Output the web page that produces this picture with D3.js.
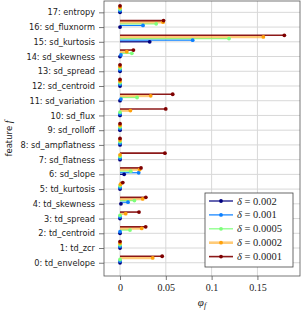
<!DOCTYPE html>
<html>
<head>
<meta charset="utf-8">
<script src="https://cdn.jsdelivr.net/npm/d3@7"></script>
<style>
body { margin: 0; background: #fff; }
svg { display: block; }
</style>
</head>
<body>
<div id="chart"></div>
<script>
// features, index 0 at the bottom
var features = ["td_envelope", "td_zcr", "td_centroid", "td_spread", "td_skewness",
  "td_kurtosis", "sd_slope", "sd_flatness", "sd_ampflatness", "sd_rolloff",
  "sd_flux", "sd_variation", "sd_centroid", "sd_spread", "sd_skewness",
  "sd_kurtosis", "sd_fluxnorm", "entropy"];

var deltas = ["0.002", "0.001", "0.0005", "0.0002", "0.0001"];
var colors = ["#00007f", "#0a7fff", "#7dff7a", "#ffa10a", "#7f0000"];

// phi_f per feature (0..17) for each delta
var phi_002 = [0, 0, 0, 0, 0.001, 0, 0.0045, 0, 0, 0, 0, 0, 0, 0, 0, 0.0324, 0, 0];
var phi_001 = [0, 0, 0, 0, 0.0087, 0, 0.0204, 0, 0, 0, 0, 0.001, 0, 0, 0.001, 0.0793, 0.0251, 0];
var phi_0005 = [0, 0, 0.0109, 0, 0.0157, 0, 0.0117, 0, 0, 0, 0, 0.0186, 0, 0, 0.0129, 0.119, 0.0395, 0];
var phi_0002 = [0.0357, 0, 0.0237, 0.0062, 0.0248, 0.0005, 0.0215, 0, 0, 0, 0.0113, 0.0335, 0, 0, 0.0074, 0.1565, 0.047, 0];
var phi_0001 = [0.046, 0, 0.028, 0.0207, 0.0282, 0.003, 0.0229, 0.049, 0, 0, 0.0499, 0.0575, 0, 0, 0.0146, 0.1794, 0.0475, 0];

var series = [phi_002, phi_001, phi_0005, phi_0002, phi_0001];
var xTicks = [0, 0.05, 0.1, 0.15];

var W = 301, H = 312;
var margin = {top: 1, right: 1, bottom: 36, left: 104};
var width = W - margin.left - margin.right,
    height = H - margin.top - margin.bottom;

var stemWidth = [1.2, 1.2, 1.3, 2.6, 1.6],
    stemOpacity = [1, 1, 0.9, 0.55, 0.9],
    offset = 0.11;

var svg = d3.select("#chart").append("svg")
  .attr("width", W).attr("height", H);

var g = svg.append("g")
  .attr("transform", "translate(" + margin.left + "," + margin.top + ")");

var x = d3.scaleLinear().domain([-0.0175, 0.1965]).range([0, width]);
var y = d3.scaleLinear().domain([-0.9, 17.77]).range([height, 0]);

// grid
g.selectAll("line.hgrid").data(features).enter().append("line")
  .attr("class", "hgrid")
  .attr("x1", 0).attr("x2", width)
  .attr("y1", function(d, i) { return y(i); })
  .attr("y2", function(d, i) { return y(i); })
  .style("stroke", "#d8d8d8").style("stroke-width", 1);

g.selectAll("line.vgrid").data(xTicks).enter().append("line")
  .attr("class", "vgrid")
  .attr("y1", 0).attr("y2", height)
  .attr("x1", function(d) { return x(d); })
  .attr("x2", function(d) { return x(d); })
  .style("stroke", "#d8d8d8").style("stroke-width", 1);

// stems
series.forEach(function(vals, s) {
  g.selectAll("line.stem" + s).data(vals).enter().append("line")
    .attr("class", "stem" + s)
    .attr("x1", x(0))
    .attr("x2", function(d) { return x(d); })
    .attr("y1", function(d, i) { return y(i + s * offset); })
    .attr("y2", function(d, i) { return y(i + s * offset); })
    .style("stroke", colors[s])
    .style("stroke-width", stemWidth[s])
    .style("stroke-opacity", stemOpacity[s]);
});

// markers
series.forEach(function(vals, s) {
  g.selectAll("circle.mk" + s).data(vals).enter().append("circle")
    .attr("class", "mk" + s)
    .attr("cx", function(d) { return x(d); })
    .attr("cy", function(d, i) { return y(i + s * offset); })
    .attr("r", 1.9)
    .style("fill", colors[s]);
});

// frame
g.append("rect")
  .attr("width", width).attr("height", height)
  .style("fill", "none").style("stroke", "#555").style("stroke-width", 0.8);

// axes
var yAxis = d3.axisLeft(y)
  .tickValues(d3.range(features.length))
  .tickFormat(function(d) { return d + ": " + features[d]; })
  .tickSize(5).tickPadding(4);

var yg = g.append("g").call(yAxis);
yg.select(".domain").remove();
yg.selectAll("line").style("stroke", "#555").style("stroke-width", 0.8);
yg.selectAll("text")
  .style("font-family", "'DejaVu Sans', sans-serif")
  .style("font-size", "8.2px")
  .style("fill", "#222");

var xAxis = d3.axisBottom(x)
  .tickValues(xTicks)
  .tickFormat(function(d) { return d === 0 ? "0" : String(d); })
  .tickSize(4).tickPadding(4);

var xg = g.append("g").attr("transform", "translate(0," + height + ")").call(xAxis);
xg.select(".domain").remove();
xg.selectAll("line").style("stroke", "#555").style("stroke-width", 0.8);
xg.selectAll("text")
  .style("font-family", "'Liberation Serif', serif")
  .style("font-size", "10px")
  .style("fill", "#222");

// axis labels
svg.append("text")
  .attr("transform", "translate(12," + (margin.top + height / 2) + ") rotate(-90)")
  .attr("text-anchor", "middle")
  .style("font-family", "'DejaVu Sans', sans-serif")
  .style("font-size", "8.5px")
  .style("fill", "#222")
  .html("feature <tspan style=\"font-family:'Liberation Serif',serif;font-style:italic;font-size:10px\">f</tspan>");

var xl = svg.append("text")
  .attr("x", margin.left + width / 2).attr("y", 306)
  .attr("text-anchor", "middle")
  .style("font-family", "'Liberation Serif', serif")
  .style("font-size", "11px")
  .style("fill", "#222");
xl.append("tspan").style("font-style", "italic").text("\u03c6");
xl.append("tspan").attr("dy", 2).style("font-size", "8px").style("font-style", "italic").text("f");

// legend
var lg = svg.append("g").attr("transform", "translate(205,193)");
lg.append("rect")
  .attr("width", 88).attr("height", 74)
  .style("fill", "#fff").style("stroke", "#444").style("stroke-width", 0.8);

var items = lg.selectAll("g.item").data(deltas.map(function(d, i) { return i; })).enter()
  .append("g").attr("class", "item")
  .attr("transform", function(i) { return "translate(0," + (8 + i * 13.9) + ")"; });

items.append("line")
  .attr("x1", 4).attr("x2", 28)
  .style("stroke", function(i) { return colors[i]; })
  .style("stroke-width", function(i) { return stemWidth[i]; })
  .style("stroke-opacity", function(i) { return stemOpacity[i]; });
items.append("circle")
  .attr("cx", 16).attr("r", 1.9)
  .style("fill", function(i) { return colors[i]; });

var lt = items.append("text")
  .attr("x", 32).attr("y", 3.5)
  .style("font-family", "'Liberation Serif', serif")
  .style("font-size", "10.5px")
  .style("fill", "#222");
lt.append("tspan").style("font-style", "italic").text("\u03b4");
lt.append("tspan").text(function(i) { return " = " + deltas[i]; });
</script>
</body>
</html>
